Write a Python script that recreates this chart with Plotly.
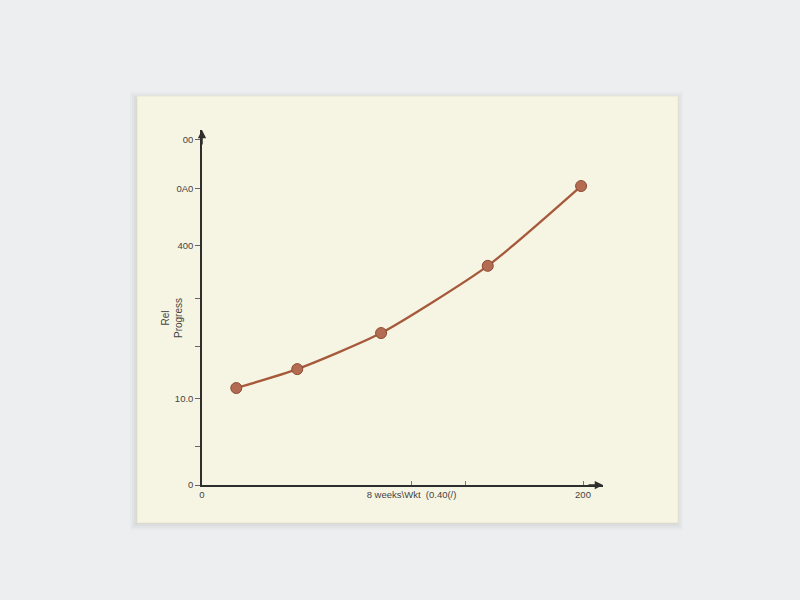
import plotly.graph_objects as go

# data
x_vals = [18, 50, 94, 150, 199]
y_vals = [27.7, 33.1, 43.4, 62.6, 85.4]

y_tick_vals = [0, 11, 24.6, 39.7, 53.4, 68.3, 84.6, 98.6]
y_tick_text = ["0", "", "10.0", "", "", "400", "0A0", "00"]
x_tick_vals = [0, 110, 138.5, 200]
x_tick_text = ["0", "8 weeks\\Wkt  (0.40(/)", "", "200"]

y_title = "Rel<br>Progress"

line_color = "#a6593b"
marker_color = "#b36c52"
card_color = "#f6f4e3"
bg_color = "#eceeef"
axis_color = "#2e2e2e"

OFF = 8  # page margin of the browser

fig = go.Figure()
fig.add_trace(go.Scatter(
    x=x_vals, y=y_vals, mode="lines+markers",
    line=dict(color=line_color, width=2.3, shape="spline", smoothing=0.6),
    marker=dict(color=marker_color, size=11, line=dict(color="#8e4a32", width=1)),
    hoverinfo="skip", showlegend=False,
))

px_w, px_h = 401.0, 355.0
def px_x(p):
    return (p - 202) / px_w
def px_y(p):
    return (485 - p) / px_h

shapes = []
for off, op in [(7, 0.03), (5, 0.04), (3, 0.05), (1, 0.07)]:
    shapes.append(dict(type="rect", xref="paper", yref="paper", layer="below",
                       x0=px_x(137 - off), x1=px_x(678 + off - 2),
                       y0=px_y(523 + off), y1=px_y(96 - off + 3),
                       line=dict(width=0), fillcolor=f"rgba(90,90,90,{op})"))
shapes.append(dict(type="rect", xref="paper", yref="paper", layer="below",
                   x0=px_x(137), x1=px_x(678), y0=px_y(523), y1=px_y(96),
                   line=dict(width=0.8, color="#e8e4d2"), fillcolor=card_color))

annotations = [
    dict(x=0, y=101.4, xref="x", yref="y", ax=0, ay=16, axref="pixel", ayref="pixel",
         showarrow=True, arrowhead=2, arrowsize=1.1, arrowwidth=1.5, arrowcolor=axis_color, text=""),
    dict(x=210.5, y=0, xref="x", yref="y", ax=-16, ay=0, axref="pixel", ayref="pixel",
         showarrow=True, arrowhead=2, arrowsize=1.1, arrowwidth=1.5, arrowcolor=axis_color, text=""),
    dict(x=px_x(172), y=px_y(318), xref="paper", yref="paper", text=y_title,
         xanchor="center", yanchor="middle",
         textangle=-90, showarrow=False, font=dict(size=10, color="#444", family="Liberation Sans")),
]

fig.update_layout(
    width=800, height=600,
    margin=dict(l=202 - OFF, r=197 + OFF, t=130 - OFF, b=115 + OFF),
    paper_bgcolor=bg_color, plot_bgcolor="rgba(0,0,0,0)",
    shapes=shapes, annotations=annotations,
    font=dict(family="Liberation Sans", size=10, color="#444"),
    xaxis=dict(range=[0, 210.5], showgrid=False, zeroline=False, showline=True,
               linecolor=axis_color, linewidth=1.5, tickvals=x_tick_vals, ticktext=x_tick_text,
               ticks="inside", ticklen=4, tickcolor="#777", tickfont=dict(size=9.5, color="#444")),
    yaxis=dict(range=[0, 101.4], showgrid=False, zeroline=False, showline=True,
               linecolor=axis_color, linewidth=1.5, tickvals=y_tick_vals, ticktext=y_tick_text,
               ticks="outside", ticklen=5, tickcolor="#666", tickfont=dict(size=9.5, color="#444")),
)

fig.write_html("out.html", config={"displayModeBar": False},
               post_script="document.body.style.background='%s';" % bg_color)
